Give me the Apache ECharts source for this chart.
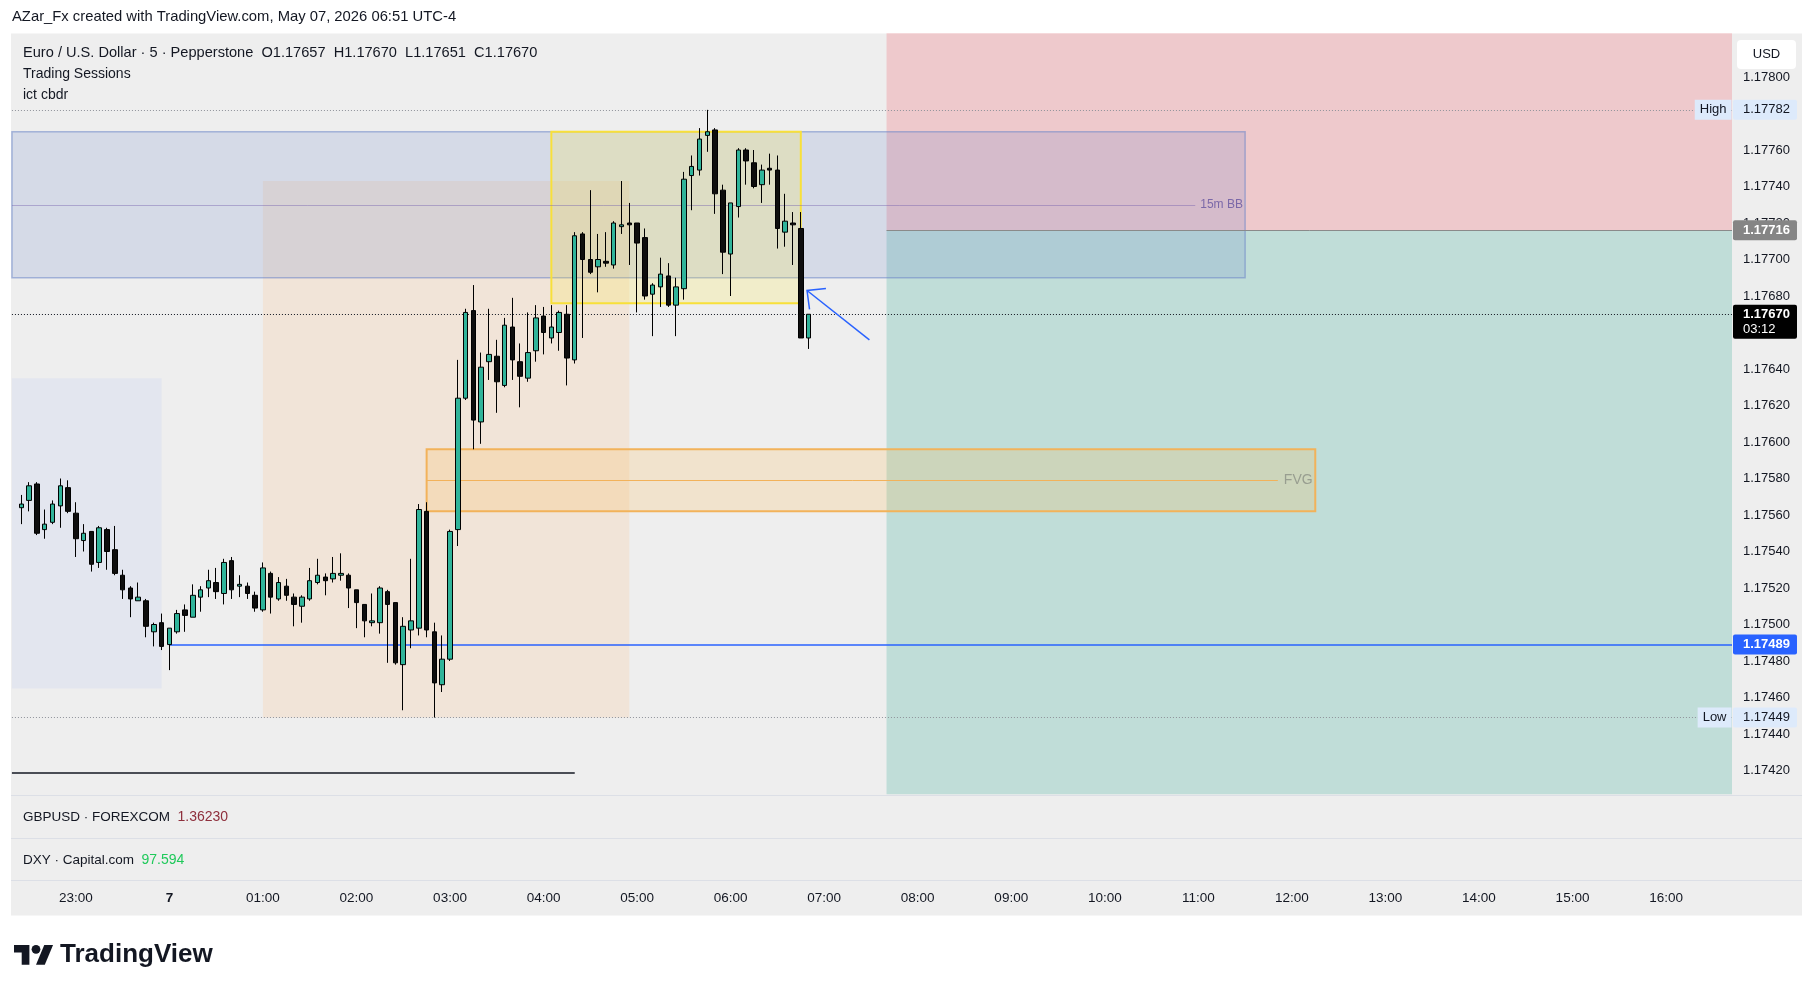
<!DOCTYPE html>
<html>
<head>
<meta charset="utf-8">
<title>EURUSD 5m</title>
<script src="https://cdn.jsdelivr.net/npm/echarts@6.0.0/dist/echarts.min.js"></script>
<style>
html,body{margin:0;padding:0;background:#ffffff;}
#chart{width:1815px;height:991px;}
</style>
</head>
<body>
<div id="chart"></div>
<script>
// ---------------- data ----------------
const firstBarTime = '22:25';
const barMinutes = 5;
const opens = [1.17564,1.17568,1.17577,1.17552,1.17556,1.17565,1.17575,1.17561,1.17546,1.17551,
1.17534,1.17552,1.17541,1.17527,1.17520,1.17513,1.17513,1.17496,1.17501,1.17489,
1.17496,1.17508,1.17504,1.17515,1.17520,1.17523,1.17517,1.17535,1.17521,1.17521,
1.17516,1.17508,1.17528,1.17514,1.17521,1.17515,1.17510,1.17514,1.17523,1.17526,
1.17525,1.17527,1.17527,1.17519,1.17511,1.17501,1.17501,1.17518,1.17512,1.17478,
1.17497,1.17498,1.17562,1.17496,1.17467,1.17481,1.17552,1.17624,1.17672,1.17611,
1.17644,1.17647,1.17631,1.17663,1.17644,1.17635,1.17650,1.17669,1.17657,1.17660,
1.17670,1.17645,1.17714,1.17700,1.17696,1.17699,1.17697,1.17718,1.17720,1.17720,
1.17712,1.17681,1.17685,1.17691,1.17675,1.17684,1.17746,1.17749,1.17768,1.17771,
1.17738,1.17703,1.17729,1.17760,1.17753,1.17741,1.17750,1.17749,1.17715,1.17720,
1.17717,1.17657];
const highs = [1.17571,1.17578,1.17578,1.17563,1.17568,1.17580,1.17579,1.17567,1.17555,1.17551,
1.17554,1.17553,1.17554,1.17530,1.17521,1.17523,1.17514,1.17501,1.17506,1.17498,
1.17508,1.17511,1.17522,1.17521,1.17530,1.17531,1.17536,1.17537,1.17527,1.17523,
1.17518,1.17534,1.17529,1.17526,1.17525,1.17517,1.17516,1.17531,1.17536,1.17528,
1.17537,1.17539,1.17528,1.17519,1.17511,1.17517,1.17521,1.17519,1.17512,1.17504,
1.17536,1.17566,1.17567,1.17501,1.17494,1.17552,1.17645,1.17673,1.17686,1.17649,
1.17673,1.17656,1.17668,1.17679,1.17654,1.17671,1.17675,1.17674,1.17675,1.17672,
1.17675,1.17715,1.17715,1.17738,1.17714,1.17715,1.17721,1.17743,1.17731,1.17720,
1.17717,1.17687,1.17701,1.17698,1.17690,1.17748,1.17757,1.17772,1.17782,1.17772,
1.17741,1.17731,1.17761,1.17761,1.17760,1.17752,1.17758,1.17757,1.17736,1.17726,
1.17726,1.17670];
const lows = [1.17555,1.17562,1.17549,1.17547,1.17555,1.17553,1.17561,1.17537,1.17540,1.17529,
1.17531,1.17530,1.17527,1.17514,1.17504,1.17513,1.17493,1.17488,1.17486,1.17475,
1.17495,1.17496,1.17504,1.17507,1.17515,1.17514,1.17511,1.17514,1.17515,1.17514,
1.17507,1.17507,1.17506,1.17513,1.17513,1.17499,1.17501,1.17513,1.17522,1.17516,
1.17523,1.17524,1.17509,1.17498,1.17493,1.17499,1.17495,1.17479,1.17478,1.17453,
1.17487,1.17494,1.17493,1.17449,1.17463,1.17480,1.17543,1.17623,1.17596,1.17599,
1.17634,1.17616,1.17630,1.17634,1.17619,1.17633,1.17644,1.17648,1.17654,1.17650,
1.17631,1.17643,1.17657,1.17692,1.17682,1.17696,1.17695,1.17714,1.17697,1.17671,
1.17678,1.17658,1.17674,1.17674,1.17658,1.17678,1.17727,1.17746,1.17759,1.17725,
1.17692,1.17680,1.17723,1.17741,1.17739,1.17731,1.17741,1.17706,1.17707,1.17697,
1.17657,1.17651];
const closes = [1.17566,1.17576,1.17550,1.17555,1.17566,1.17576,1.17562,1.17547,1.17550,1.17533,
1.17553,1.17540,1.17528,1.17519,1.17514,1.17515,1.17499,1.17500,1.17488,1.17498,
1.17506,1.17505,1.17516,1.17519,1.17524,1.17518,1.17534,1.17519,1.17522,1.17517,
1.17509,1.17531,1.17515,1.17523,1.17516,1.17511,1.17515,1.17524,1.17527,1.17524,
1.17528,1.17528,1.17520,1.17512,1.17502,1.17502,1.17520,1.17511,1.17479,1.17499,
1.17502,1.17563,1.17497,1.17468,1.17481,1.17551,1.17624,1.17671,1.17612,1.17641,
1.17648,1.17633,1.17664,1.17645,1.17636,1.17649,1.17668,1.17660,1.17663,1.17671,
1.17646,1.17713,1.17700,1.17693,1.17700,1.17698,1.17720,1.17719,1.17719,1.17709,
1.17680,1.17686,1.17692,1.17675,1.17685,1.17744,1.17751,1.17766,1.17770,1.17736,
1.17704,1.17731,1.17760,1.17754,1.17740,1.17749,1.17749,1.17717,1.17721,1.17719,
1.17657,1.17670];

const countdown = '03:12';
const keyLevel = 1.17489;          // blue horizontal line
const keyLevelFrom = '00:00';
const entryLevel = 1.17716;        // short position entry
const riskFrom = '07:40';
const riskStop = 1.17824;
const riskTarget = 1.17407;
const cbdrLevel = 1.17419;         // black line
const cbdrFrom = '22:19', cbdrTo = '04:20';
const sessionA = {from:'22:19', to:'23:55', top:1.17635, bottom:1.17465};
const sessionB = {from:'01:00', to:'04:55', top:1.17743, bottom:1.17449};
const bbBox = {from:'22:19', to:'11:30', top:1.17770, bottom:1.17690, mid:1.17730, midTo:'10:58', label:'15m BB'};
const fvgBox = {from:'02:45', to:'12:15', top:1.17596, bottom:1.17562, mid:1.17579, midTo:'11:51', label:'FVG'};
const yellowBox = {from:'04:05', to:'06:45', top:1.17770, bottom:1.17676};
const arrowDraw = {tail:['07:29', 1.17656], tip:['06:49', 1.17683]};
const newDayLabel = '7';
const otherSymbols = [
  {name:'GBPUSD · FOREXCOM', value:'1.36230', color:'#8e2f3c'},
  {name:'DXY · Capital.com', value:'97.594', color:'#1fc95a'}
];
const headerText = 'AZar_Fx created with TradingView.com, May 07, 2026 06:51 UTC-4';
const symbolTitle = 'Euro / U.S. Dollar · 5 · Pepperstone';
const indicatorNames = ['Trading Sessions', 'ict cbdr'];

// ---------------- helpers ----------------
const FONT = '"Liberation Sans", Arial, sans-serif';
const TXT = '#131722';
function toMin(t){ const p = t.split(':').map(Number); return ((p[0]*60 + p[1]) - 22*60 + 1440) % 1440; }
const X_MIN = 11.35, X_MAX = 1122.3;
const PANE_L = toMin('22:19');
const last = closes.length - 1;
const highLevel = Math.max.apply(null, highs);
const lowLevel = Math.min.apply(null, lows);
const lastPrice = closes[last];
const f5 = v => v.toFixed(5);
const hourTicks = [];
for (let m = 60; m < X_MAX; m += 60) hourTicks.push(m);

const candleData = opens.map((o, i) => [toMin(firstBarTime) + i * barMinutes, o, closes[i], lows[i], highs[i]]);

const tagLabel = (text, bg, fg, bold) => ({
  show:true, position:'end', distance:1, formatter:text,
  backgroundColor:bg, color:fg, fontSize:13, fontFamily:FONT, fontWeight: bold ? 'bold' : 'normal',
  padding:[4,7,3,10], borderRadius:2
});
const noLabel = {show:false};

const chart = echarts.init(document.getElementById('chart'), null, {renderer:'canvas'});

const option = {
  animation:false,
  backgroundColor:'#ffffff',
  textStyle:{fontFamily:FONT},
  grid:{left:0, top:4, width:1732, height:803, containLabel:false},
  xAxis:{
    type:'value', min:X_MIN, max:X_MAX, z:60,
    axisLine:{show:false}, axisTick:{show:false}, splitLine:{show:false},
    axisLabel:{
      customValues:hourTicks,
      margin:84, fontSize:13.5, color:TXT, fontFamily:FONT,
      formatter:function(v){
        const m = Math.round(v);
        if (m % 60 !== 0) return '';
        const h = (22 + m/60) % 24;
        if (h === 0) return '{b|' + newDayLabel + '}';
        return String(h).padStart(2,'0') + ':00';
      },
      rich:{b:{fontWeight:'bold', fontSize:13.5, color:TXT, fontFamily:FONT}}
    }
  },
  yAxis:{
    type:'value', position:'right', min:1.174, max:1.1784, interval:0.0002,
    axisLine:{show:false}, axisTick:{show:false}, splitLine:{show:false},
    axisLabel:{margin:11, fontSize:13, color:TXT, fontFamily:FONT,
      formatter:function(v){ return (v < 1.17410 || v > 1.17810) ? '' : v.toFixed(5); }}
  },
  graphic:[
    {type:'rect', z:-100, shape:{x:11, y:33.5, width:1791, height:882}, style:{fill:'#eeeeee'}},
    {type:'rect', z:-99, shape:{x:11, y:795, width:1791, height:1}, style:{fill:'#dcdfe6'}},
    {type:'rect', z:-99, shape:{x:11, y:838, width:1791, height:1}, style:{fill:'#dcdfe6'}},
    {type:'rect', z:-99, shape:{x:11, y:880, width:1791, height:1}, style:{fill:'#dcdfe6'}},
    {type:'rect', z:50, shape:{x:0, y:0, width:11, height:991}, style:{fill:'#ffffff'}},
    {type:'text', z:60, x:12, y:17, style:{text:headerText, fill:TXT, font:'14.8px ' + FONT, verticalAlign:'middle'}},
    {type:'text', z:60, x:23, y:53, style:{
      text: symbolTitle + '  O' + f5(opens[last]) + '  H' + f5(highs[last]) + '  L' + f5(lows[last]) + '  C' + f5(closes[last]),
      fill:TXT, font:'14.6px ' + FONT, verticalAlign:'middle'}},
    {type:'text', z:60, x:23, y:74, style:{text:indicatorNames[0], fill:TXT, font:'14px ' + FONT, verticalAlign:'middle'}},
    {type:'text', z:60, x:23, y:95, style:{text:indicatorNames[1], fill:TXT, font:'14px ' + FONT, verticalAlign:'middle'}},
    {type:'text', z:60, x:23, y:817, style:{
      text:'{a|' + otherSymbols[0].name + '}  {b|' + otherSymbols[0].value + '}',
      font:'13.5px ' + FONT, verticalAlign:'middle',
      rich:{a:{fill:TXT, fontSize:13.5, fontFamily:FONT}, b:{fill:otherSymbols[0].color, fontSize:14, fontFamily:FONT}}}},
    {type:'text', z:60, x:23, y:860, style:{
      text:'{a|' + otherSymbols[1].name + '}  {b|' + otherSymbols[1].value + '}',
      font:'13.5px ' + FONT, verticalAlign:'middle',
      rich:{a:{fill:TXT, fontSize:13.5, fontFamily:FONT}, b:{fill:otherSymbols[1].color, fontSize:14, fontFamily:FONT}}}},
    {type:'group', z:70, x:1737, y:40, children:[
      {type:'rect', z:70, shape:{x:0, y:0, width:59, height:29, r:4}, style:{fill:'#ffffff'}},
      {type:'text', z:71, x:29.5, y:14.5, style:{text:'USD', fill:TXT, font:'13px ' + FONT, align:'center', verticalAlign:'middle'}}
    ]},
    {type:'group', z:60, x:14, y:940.5, scaleX:1.1, scaleY:1.1, children:[
      {type:'polygon', z:60, shape:{points:[[14,22],[7,22],[7,11],[0,11],[0,4],[14,4]]}, style:{fill:TXT}},
      {type:'polygon', z:60, shape:{points:[[28,22],[20,22],[27.5,4],[35.5,4]]}, style:{fill:TXT}},
      {type:'circle', z:60, shape:{cx:20, cy:8, r:4}, style:{fill:TXT}}
    ]},
    {type:'text', z:60, x:60, y:955, style:{text:'TradingView', fill:TXT, font:'bold 26px ' + FONT, verticalAlign:'middle'}}
  ],
  series:[
    {
      name:'sessions', type:'line', data:[], silent:true, z:1,
      markArea:{silent:true, z:1, data:[
        [{coord:[toMin(sessionA.from), sessionA.top], itemStyle:{color:'#e3e6ef'}}, {coord:[toMin(sessionA.to), sessionA.bottom]}],
        [{coord:[toMin(sessionB.from), sessionB.top], itemStyle:{color:'rgba(255,196,140,0.22)'}}, {coord:[toMin(sessionB.to), sessionB.bottom]}]
      ]}
    },
    {
      name:'risk', type:'line', data:[], silent:true, z:1,
      markArea:{silent:true, z:1, data:[
        [{coord:[toMin(riskFrom), riskStop], itemStyle:{color:'rgba(242,54,69,0.2)'}}, {coord:[X_MAX, entryLevel]}],
        [{coord:[toMin(riskFrom), entryLevel], itemStyle:{color:'rgba(8,153,129,0.2)'}}, {coord:[X_MAX, riskTarget]}]
      ]}
    },
    {
      name:'boxes', type:'line', data:[], silent:true, z:2,
      markArea:{silent:true, z:2, data:[
        [{coord:[toMin(bbBox.from), bbBox.top], itemStyle:{color:'rgba(100,125,200,0.18)', borderColor:'rgba(110,135,200,0.55)', borderWidth:1.5}}, {coord:[toMin(bbBox.to), bbBox.bottom]}],
        [{coord:[toMin(fvgBox.from), fvgBox.top], itemStyle:{color:'rgba(255,183,77,0.2)', borderColor:'#f2b25a', borderWidth:2}}, {coord:[toMin(fvgBox.to), fvgBox.bottom]}]
      ]}
    },
    {
      name:'yellow', type:'line', data:[], silent:true, z:3,
      markArea:{silent:true, z:3, data:[
        [{coord:[toMin(yellowBox.from), yellowBox.top], itemStyle:{color:'rgba(255,235,59,0.2)', borderColor:'#f8e03a', borderWidth:2}}, {coord:[toMin(yellowBox.to), yellowBox.bottom]}]
      ]}
    },
    {
      name:'levels', type:'line', data:[], silent:true, z:4,
      markLine:{silent:true, z:4, symbol:['none','none'], animation:false, data:[
        [{coord:[toMin(bbBox.from), bbBox.mid], lineStyle:{color:'rgba(120,100,175,0.45)', width:1, type:'solid'},
          label:{show:true, position:'end', distance:5, formatter:bbBox.label, color:'#7b68a8', fontSize:12, fontFamily:FONT}},
         {coord:[toMin(bbBox.midTo), bbBox.mid]}],
        [{coord:[toMin(fvgBox.from), fvgBox.mid], lineStyle:{color:'#f2b25a', width:1, type:'solid'},
          label:{show:true, position:'end', distance:6, formatter:fvgBox.label, color:'#989e90', fontSize:14, fontFamily:FONT}},
         {coord:[toMin(fvgBox.midTo), fvgBox.mid]}],
        [{coord:[PANE_L, highLevel], lineStyle:{color:'#8f929a', width:1, type:[1,2]}, label:tagLabel(f5(highLevel), '#ddeafb', TXT, false)},
         {coord:[X_MAX, highLevel]}],
        [{coord:[PANE_L, lowLevel], lineStyle:{color:'#8f929a', width:1, type:[1,2]}, label:tagLabel(f5(lowLevel), '#ddeafb', TXT, false)},
         {coord:[X_MAX, lowLevel]}],
        [{coord:[PANE_L, lastPrice], lineStyle:{color:TXT, width:1, type:[1,2]}, label:noLabel},
         {coord:[X_MAX, lastPrice]}],
        [{coord:[toMin(keyLevelFrom), keyLevel], lineStyle:{color:'#2962ff', width:1.5, type:'solid'}, label:tagLabel(f5(keyLevel), '#2962ff', '#ffffff', true)},
         {coord:[X_MAX, keyLevel]}],
        [{coord:[toMin(riskFrom), entryLevel], lineStyle:{color:'#8a8a8a', width:1, type:'solid'}, label:tagLabel(f5(entryLevel), '#858585', '#ffffff', true)},
         {coord:[X_MAX, entryLevel]}],
        [{coord:[toMin(cbdrFrom), cbdrLevel], lineStyle:{color:TXT, width:1.5, type:'solid'}, label:noLabel},
         {coord:[toMin(cbdrTo), cbdrLevel]}]
      ]},
      markPoint:{silent:true, z:4, symbol:'rect', symbolSize:1, itemStyle:{color:'rgba(0,0,0,0)'},
        label:{show:true, position:'left', distance:0, formatter:function(p){return p.name;},
          backgroundColor:'#ddeafb', color:TXT, fontSize:13, fontFamily:FONT, padding:[4,5,3,5]},
        data:[{name:'High', coord:[X_MAX, highLevel]}, {name:'Low', coord:[X_MAX, lowLevel]}]}
    },
    {
      name:'EURUSD', type:'candlestick', z:5, barWidth:5,
      dimensions:['t','open','close','low','high'],
      encode:{x:'t', y:['open','close','low','high']},
      itemStyle:{color:'#30b49a', color0:'#0e0e0e', borderColor:'#000000', borderColor0:'#000000', borderWidth:1},
      data:candleData
    },
    {
      name:'arrow', type:'custom', z:6, clip:false, silent:true,
      encode:{x:[0,2], y:[1,3]},
      data:[[toMin(arrowDraw.tail[0]), arrowDraw.tail[1], toMin(arrowDraw.tip[0]), arrowDraw.tip[1]]],
      renderItem:function(params, api){
        const a = api.coord([api.value(0), api.value(1)]);
        const b = api.coord([api.value(2), api.value(3)]);
        const ang = Math.atan2(a[1]-b[1], a[0]-b[0]);
        const L = 19, s = 0.77;
        const p1 = [b[0] + L*Math.cos(ang+s), b[1] + L*Math.sin(ang+s)];
        const p2 = [b[0] + L*Math.cos(ang-s), b[1] + L*Math.sin(ang-s)];
        return {type:'group', children:[
          {type:'line', shape:{x1:a[0], y1:a[1], x2:b[0], y2:b[1]}, style:{stroke:'#2962ff', lineWidth:1.5}},
          {type:'polyline', shape:{points:[p1, b, p2]}, style:{stroke:'#2962ff', fill:null, lineWidth:1.5}}
        ]};
      }
    }
  ]
};
chart.setOption(option);

// current-price tag (price row centred on the price line, countdown below)
const cp = chart.convertToPixel({xAxisIndex:0, yAxisIndex:0}, [X_MAX, lastPrice]);
option.graphic.push({type:'group', z:65, x:cp[0] + 1, y:cp[1], children:[
  {type:'rect', z:65, shape:{x:0, y:-9.5, width:64, height:34, r:2}, style:{fill:'#000000'}},
  {type:'text', z:66, x:10, y:0.5, style:{text:f5(lastPrice), fill:'#ffffff', font:'bold 13px ' + FONT, verticalAlign:'middle'}},
  {type:'text', z:66, x:10, y:15.5, style:{text:countdown, fill:'#ffffff', font:'13px ' + FONT, verticalAlign:'middle'}}
]});
chart.setOption(option, true);
</script>
</body>
</html>
